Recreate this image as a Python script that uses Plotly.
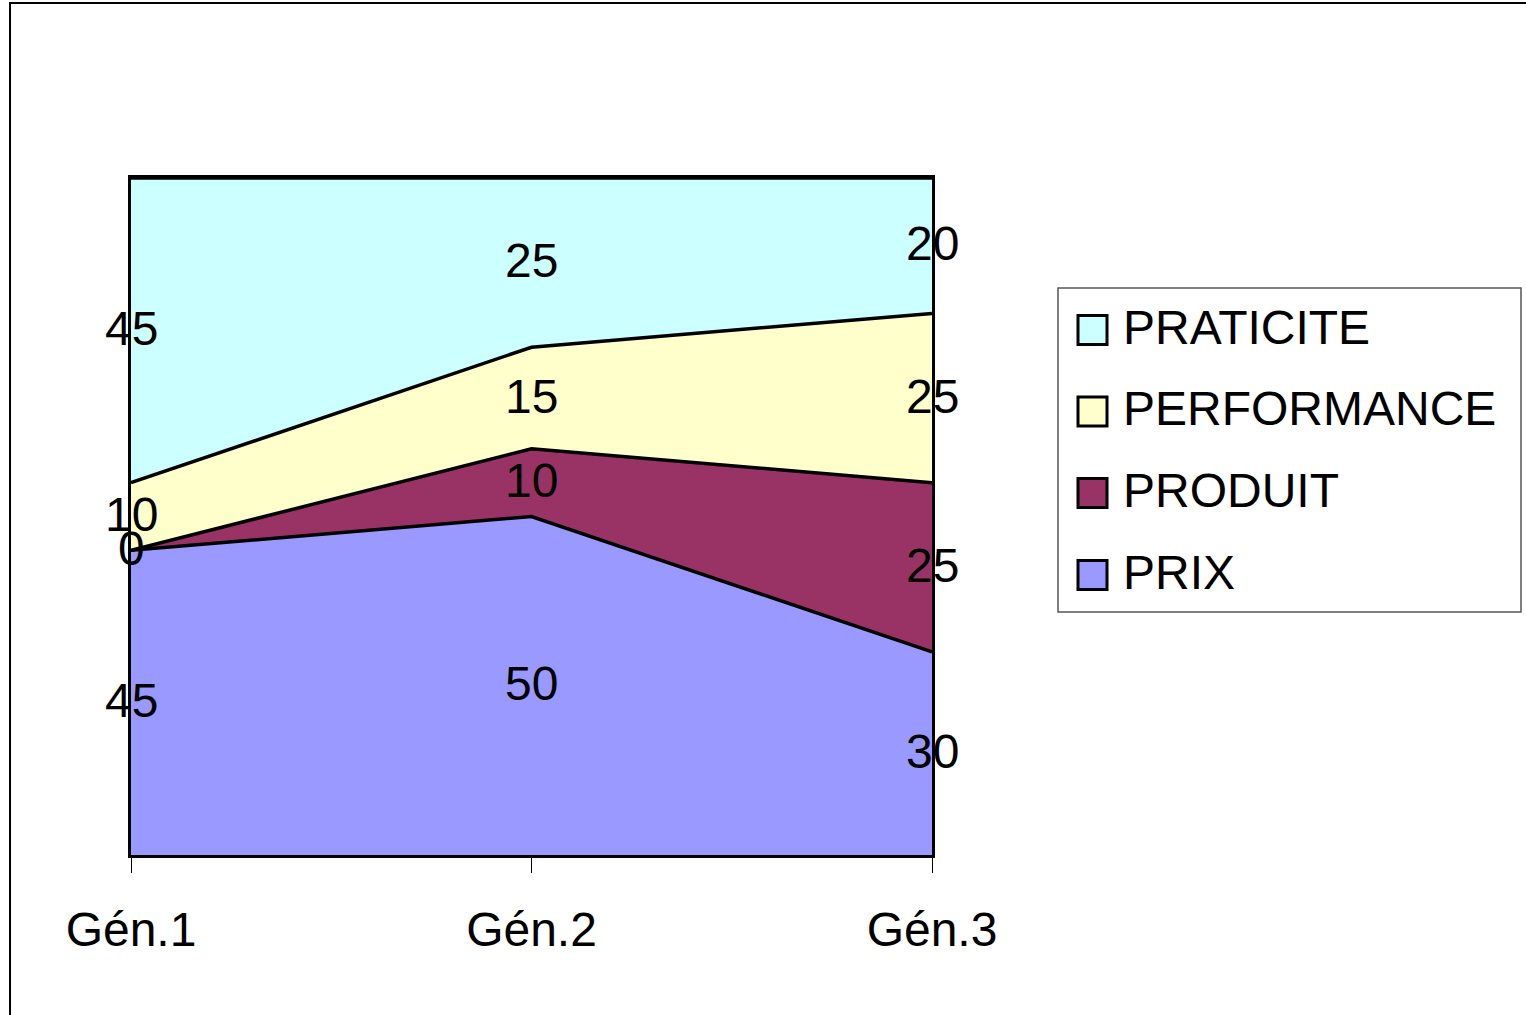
import plotly.graph_objects as go

# Generations and share of each purchase criterion (percent)
categories = ["Gén.1", "Gén.2", "Gén.3"]
series_names = ["PRIX", "PRODUIT", "PERFORMANCE", "PRATICITE"]
prix = [45, 50, 30]
produit = [0, 10, 25]
performance = [10, 15, 25]
praticite = [45, 25, 20]
colors = ["#9999FF", "#993366", "#FFFFCC", "#CCFFFF"]

series_values = [prix, produit, performance, praticite]

W, H = 1526, 1015
ML, MR, MT, MB = 131, 594, 178, 160
PW, PH = W - ML - MR, H - MT - MB
FONT = "Liberation Sans, Arial, sans-serif"
FS = 48


def px_x(x):
    return (x - ML) / PW


def px_y(y):
    return (H - MB - y) / PH


x_pos = list(range(len(categories)))

fig = go.Figure()
for name, vals, col in zip(series_names, series_values, colors):
    fig.add_trace(go.Scatter(
        x=x_pos, y=vals, name=name, mode="lines",
        stackgroup="one", fillcolor=col,
        line=dict(color="black", width=3.5),
        showlegend=False, hoverinfo="skip",
    ))

annotations = []
# Value labels centred inside each band
base = [0] * len(categories)
for vals in series_values:
    for i, v in enumerate(vals):
        annotations.append(dict(
            x=x_pos[i], y=base[i] + v / 2, xref="x", yref="y",
            text=str(v), showarrow=False, yshift=2,
            font=dict(family=FONT, size=FS, color="black"),
            xanchor="center", yanchor="middle",
        ))
    base = [b + v for b, v in zip(base, vals)]

shapes = []
# Outer chart border
shapes.append(dict(type="rect", xref="paper", yref="paper",
                   x0=px_x(10), x1=px_x(1640), y0=px_y(3), y1=px_y(1060),
                   line=dict(color="black", width=2), fillcolor="rgba(0,0,0,0)"))
# Legend box
shapes.append(dict(type="rect", xref="paper", yref="paper",
                   x0=px_x(1058), x1=px_x(1521), y0=px_y(288), y1=px_y(612),
                   line=dict(color="#555555", width=1.5), fillcolor="white"))

legend_rows = [330, 411.5, 493, 575]
legend_order = list(zip(series_names, colors))[::-1]
for (name, col), cy in zip(legend_order, legend_rows):
    shapes.append(dict(type="rect", xref="paper", yref="paper",
                       x0=px_x(1078), x1=px_x(1107), y0=px_y(cy - 14.5), y1=px_y(cy + 14.5),
                       line=dict(color="black", width=3), fillcolor=col))
    annotations.append(dict(
        x=px_x(1121), y=px_y(cy - 3), xref="paper", yref="paper",
        text=name, showarrow=False, xanchor="left", yanchor="middle",
        font=dict(family=FONT, size=FS, color="black"),
    ))

fig.update_layout(
    width=W, height=H,
    margin=dict(l=ML, r=MR, t=MT, b=MB),
    paper_bgcolor="white", plot_bgcolor="white",
    font=dict(family=FONT, color="black"),
    showlegend=False,
    annotations=annotations,
    shapes=shapes,
    xaxis=dict(
        range=[0, len(categories) - 1], tickvals=x_pos, ticktext=categories,
        ticks="outside", ticklen=15, tickwidth=1, tickcolor="black",
        showgrid=False, zeroline=False,
        showline=True, mirror=True, linecolor="black", linewidth=3,
        tickfont=dict(family=FONT, size=FS, color="black"),
        ticklabelstandoff=15,
    ),
    yaxis=dict(
        range=[0, 100], showticklabels=False, ticks="",
        showgrid=False, zeroline=False,
        showline=True, mirror=True, linecolor="black", linewidth=3,
    ),
)

fig.write_html("out.html")
